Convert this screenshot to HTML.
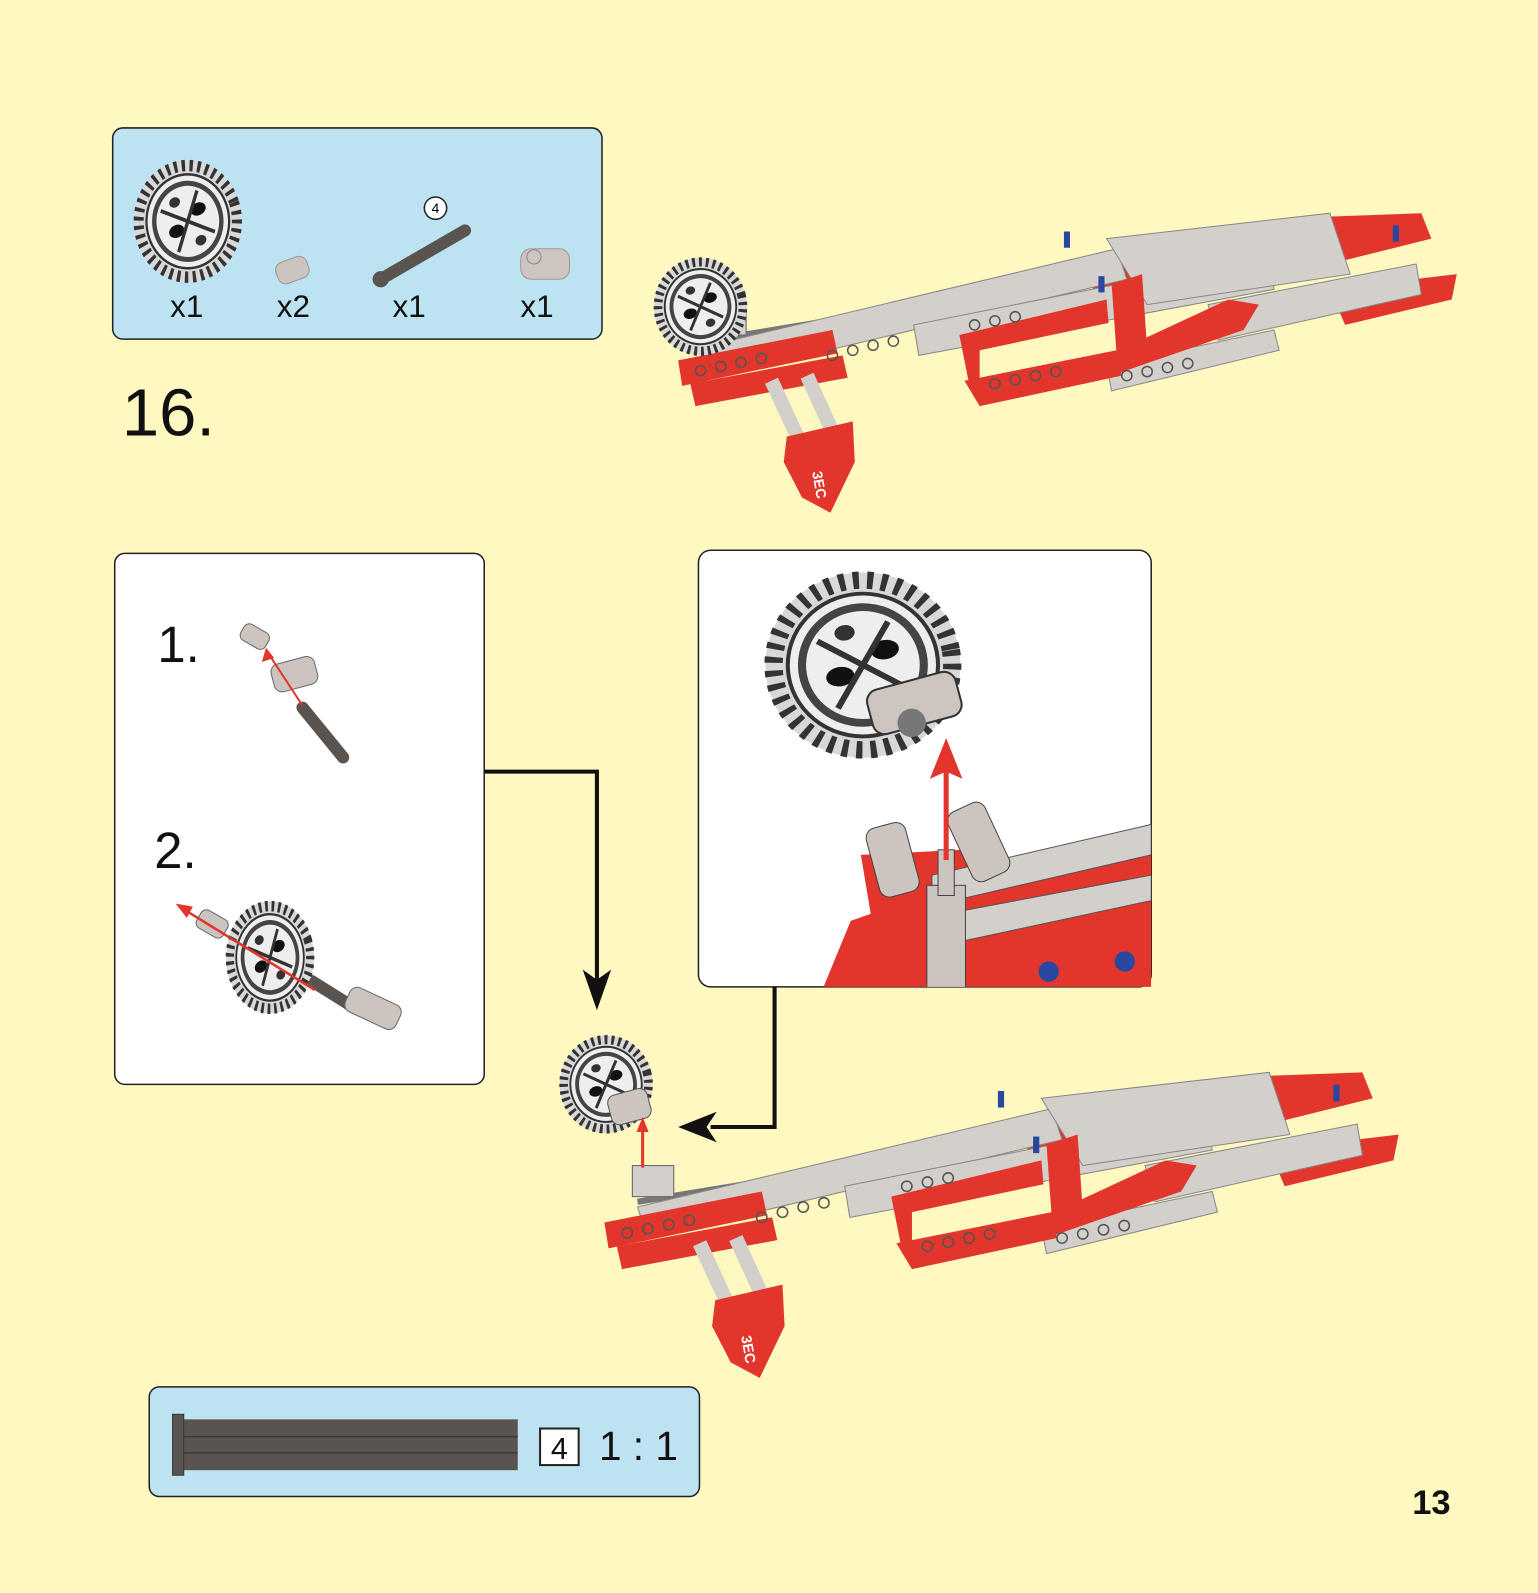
<!DOCTYPE html>
<html><head><meta charset="utf-8"><style>
html,body{margin:0;padding:0;background:#fff8c0;}
svg{display:block}
text{font-family:"Liberation Sans","DejaVu Sans",sans-serif;}
</style></head><body>
<svg width="1538" height="1593" viewBox="0 0 1515 1569" preserveAspectRatio="none" xmlns="http://www.w3.org/2000/svg">
<defs>
<g id="gear">
<circle r="48" fill="#d8d8d8"/>
<circle r="44" fill="none" stroke="#333" stroke-width="9" stroke-dasharray="3 4"/>
<circle r="37" fill="#eee" stroke="#333" stroke-width="2"/>
<circle r="30" fill="none" stroke="#444" stroke-width="4"/>
<ellipse cx="-12" cy="4" rx="7" ry="5" fill="#111"/>
<ellipse cx="12" cy="-6" rx="7" ry="5" fill="#111"/>
<ellipse cx="-6" cy="-18" rx="5" ry="4" fill="#333"/>
<ellipse cx="6" cy="18" rx="5" ry="4" fill="#333"/>
<path d="M-20 -16 Q0 0 20 16 M-16 20 Q0 0 16 -20" stroke="#333" stroke-width="3" fill="none"/>
</g>
<g id="model">
<line x1="700" y1="335" x2="1310" y2="235" stroke="#777" stroke-width="6"/>
<line x1="1200" y1="330" x2="1400" y2="285" stroke="#666" stroke-width="6"/>
<polygon points="1265,215 1400,210 1410,235 1290,265" fill="#e2352b"/>
<polygon points="1310,285 1435,270 1430,295 1325,320" fill="#e2352b"/>
<polygon points="1060,255 1200,225 1220,260 1080,290" fill="#e2352b"/>
<polygon points="700,340 1100,245 1110,275 710,370" fill="#d3cfcb" stroke="#888" stroke-width="1"/>
<polygon points="900,320 1250,250 1255,285 905,350" fill="#d3cfcb" stroke="#888" stroke-width="1"/>
<polygon points="1090,235 1310,210 1330,270 1130,300" fill="#d3cfcb" stroke="#888" stroke-width="1"/>
<polygon points="1190,300 1395,260 1400,290 1200,335" fill="#d3cfcb" stroke="#888" stroke-width="1"/>
<polygon points="1090,360 1255,325 1260,345 1095,385" fill="#d3cfcb" stroke="#888" stroke-width="1"/>
<polygon points="668,355 820,325 825,348 672,380" fill="#e2352b"/>
<polygon points="680,378 830,350 835,372 685,400" fill="#e2352b"/>
<polygon points="945,330 1090,295 1092,318 965,345 965,375 955,380" fill="#e2352b"/>
<polygon points="950,375 1100,345 1105,370 965,400" fill="#e2352b"/>
<polygon points="1095,280 1125,270 1130,345 1100,350" fill="#e2352b"/>
<polygon points="1070,360 1210,295 1240,300 1225,325 1080,375" fill="#e2352b"/>
<g fill="none" stroke="#555" stroke-width="1.5">
<circle cx="690" cy="365" r="5"/><circle cx="710" cy="361" r="5"/><circle cx="730" cy="357" r="5"/><circle cx="750" cy="353" r="5"/>
<circle cx="820" cy="350" r="5"/><circle cx="840" cy="345" r="5"/><circle cx="860" cy="340" r="5"/><circle cx="880" cy="336" r="5"/>
<circle cx="980" cy="378" r="5"/><circle cx="1000" cy="374" r="5"/><circle cx="1020" cy="370" r="5"/><circle cx="1040" cy="366" r="5"/>
<circle cx="1110" cy="370" r="5"/><circle cx="1130" cy="366" r="5"/><circle cx="1150" cy="362" r="5"/><circle cx="1170" cy="358" r="5"/>
<circle cx="960" cy="320" r="5"/><circle cx="980" cy="316" r="5"/><circle cx="1000" cy="312" r="5"/>
</g>
<line x1="760" y1="375" x2="790" y2="440" stroke="#d3cfcb" stroke-width="14"/>
<line x1="795" y1="370" x2="820" y2="425" stroke="#d3cfcb" stroke-width="14"/>
<polygon points="775,430 840,415 842,455 818,505 790,490 772,455" fill="#e2352b"/>
<text x="800" y="465" font-size="14" fill="#fff" font-weight="bold" transform="rotate(80 800 465)">3EC</text>
<rect x="1048" y="228" width="6" height="16" fill="#2848a0"/>
<rect x="1082" y="272" width="6" height="16" fill="#2848a0"/>
<rect x="1372" y="222" width="6" height="16" fill="#2848a0"/>
<rect x="695" y="300" width="40" height="30" fill="#d3cfcb" stroke="#666"/>
</g>
</defs>

<rect width="1515" height="1569" fill="#fff8c0"/>

<rect x="111" y="126" width="482" height="208" rx="10" fill="#bde2f2" stroke="#222" stroke-width="1.5"/>
<use href="#gear" transform="translate(185,218) scale(1.1,1.25) rotate(-20)"/>
<rect x="272" y="255" width="32" height="22" rx="8" fill="#ccc5bf" stroke="#999" transform="rotate(-20 288 266)"/>
<line x1="375" y1="275" x2="458" y2="227" stroke="#5a5450" stroke-width="12" stroke-linecap="round"/>
<circle cx="375" cy="275" r="8" fill="#5a5450"/>
<circle cx="429" cy="205" r="11" fill="#fff" stroke="#222" stroke-width="1.5"/>
<text x="429" y="210" font-size="14" text-anchor="middle">4</text>
<rect x="513" y="245" width="48" height="30" rx="10" fill="#cdc6c0" stroke="#999"/>
<circle cx="526" cy="253" r="7" fill="none" stroke="#888"/>
<g font-size="31" fill="#111" text-anchor="middle">
<text x="184" y="312">x1</text><text x="289" y="312">x2</text><text x="403" y="312">x1</text><text x="529" y="312">x1</text>
</g>
<text x="120" y="429" font-size="66" fill="#111">16.</text>

<use href="#model"/>
<use href="#gear" transform="translate(690,302) scale(0.95,1.0) rotate(-15)"/>

<rect x="113" y="545" width="364" height="523" rx="10" fill="#fff" stroke="#222" stroke-width="1.5"/>
<text x="155" y="652" font-size="50" fill="#111">1.</text>
<text x="152" y="855" font-size="50" fill="#111">2.</text>
<rect x="237" y="618" width="28" height="18" rx="6" fill="#ccc5bf" stroke="#666" transform="rotate(30 251 627)"/>
<rect x="268" y="650" width="44" height="28" rx="8" fill="#ccc5bf" stroke="#666" transform="rotate(-15 290 664)"/>
<line x1="298" y1="697" x2="338" y2="746" stroke="#5a5450" stroke-width="12" stroke-linecap="round"/>
<line x1="298" y1="695" x2="262" y2="640" stroke="#e2352b" stroke-width="2"/>
<polygon points="262,638 258,652 270,648" fill="#e2352b"/>
<use href="#gear" transform="translate(266,943) scale(0.9,1.15) rotate(-20)"/>
<line x1="305" y1="965" x2="345" y2="990" stroke="#5a5450" stroke-width="12"/>
<rect x="340" y="980" width="55" height="26" rx="8" fill="#ccc5bf" stroke="#666" transform="rotate(25 367 993)"/>
<rect x="194" y="900" width="30" height="20" rx="6" fill="#ccc5bf" stroke="#666" transform="rotate(30 209 910)"/>
<line x1="310" y1="975" x2="180" y2="895" stroke="#e2352b" stroke-width="2.5"/>
<polygon points="173,890 190,893 184,904" fill="#e2352b"/>

<polyline points="477,760 588,760 588,975" fill="none" stroke="#111" stroke-width="4"/>
<polygon points="574,955 588,995 602,955 588,965" fill="#111"/>

<rect x="688" y="542" width="446" height="430" rx="12" fill="#fff" stroke="#222" stroke-width="1.5"/>
<svg x="688" y="542" width="446" height="430">
<polygon points="115,450 150,365 250,330 446,295 446,450" fill="#e2352b"/>
<polygon points="160,300 260,295 290,330 170,360" fill="#e2352b"/>
<polygon points="230,320 446,270 446,300 230,350" fill="#d3cfcb" stroke="#555"/>
<polygon points="260,355 446,320 446,345 260,385" fill="#d3cfcb" stroke="#555"/>
<rect x="170" y="270" width="40" height="70" rx="10" fill="#ccc5bf" stroke="#444" transform="rotate(-15 190 300)"/>
<rect x="255" y="250" width="40" height="75" rx="10" fill="#ccc5bf" stroke="#444" transform="rotate(-25 275 285)"/>
<rect x="225" y="330" width="38" height="120" fill="#ccc5bf" stroke="#444"/>
<rect x="236" y="295" width="16" height="45" fill="#ccc5bf" stroke="#444"/>
<circle cx="345" cy="415" r="10" fill="#2848a0"/><circle cx="420" cy="405" r="10" fill="#2848a0"/>
<line x1="244" y1="305" x2="244" y2="205" stroke="#e2352b" stroke-width="5"/>
<polygon points="228,225 244,185 260,225 244,218" fill="#e2352b"/>
</svg>
<use href="#gear" transform="translate(850,655) scale(2.0,1.9) rotate(-10)"/>
<rect x="855" y="670" width="90" height="45" rx="12" fill="#cdc6c0" stroke="#333" stroke-width="2" transform="rotate(-15 900 690)"/>
<circle cx="898" cy="712" r="14" fill="#777"/>

<polyline points="763,972 763,1110 700,1110" fill="none" stroke="#111" stroke-width="4"/>
<polygon points="668,1110 706,1095 696,1110 706,1125" fill="#111"/>

<use href="#model" transform="translate(-86,842) scale(1.02)"/>
<use href="#gear" transform="translate(597,1068) scale(0.95,1.0) rotate(-15)"/>
<rect x="600" y="1075" width="40" height="30" rx="8" fill="#ccc5bf" stroke="#555" transform="rotate(-15 620 1090)"/>
<line x1="633" y1="1150" x2="633" y2="1110" stroke="#e2352b" stroke-width="3"/>
<polygon points="627,1115 633,1100 639,1115" fill="#e2352b"/>

<rect x="147" y="1366" width="542" height="108" rx="10" fill="#bde2f2" stroke="#222" stroke-width="1.5"/>
<rect x="180" y="1398" width="330" height="50" fill="#5a5450"/>
<line x1="180" y1="1415" x2="510" y2="1415" stroke="#3c3836" stroke-width="1.5"/>
<line x1="180" y1="1431" x2="510" y2="1431" stroke="#3c3836" stroke-width="1.5"/>
<rect x="170" y="1393" width="11" height="60" fill="#5a5450" stroke="#333"/>
<rect x="532" y="1407" width="38" height="36" fill="#fff" stroke="#222" stroke-width="2"/>
<text x="551" y="1437" font-size="30" text-anchor="middle" fill="#111">4</text>
<text x="590" y="1438" font-size="40" fill="#111">1 : 1</text>

<text x="1410" y="1491" font-size="34" font-weight="bold" text-anchor="middle" fill="#111">13</text>
</svg>
</body></html>
